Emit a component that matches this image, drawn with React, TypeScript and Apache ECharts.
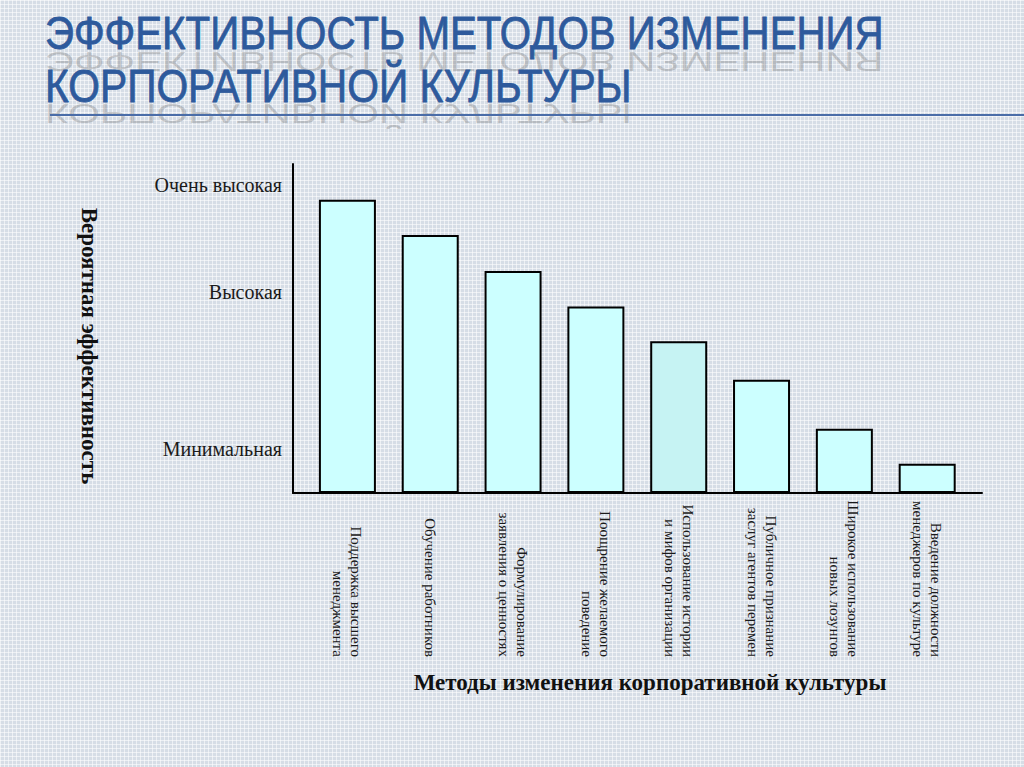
import React, { useEffect, useRef } from "react";
import * as echarts from "echarts";

const categories = [
  "Поддержка высшего\nменеджмента",
  "Обучение работников",
  "Формулирование\nзаявления о ценностях",
  "Поощрение желаемого\nповедение",
  "Использование истории\nи мифов организации",
  "Публичное признание\nзаслуг агентов перемен",
  "Широкое использование\nновых лозунгов",
  "Введение должности\nменеджеров по культуре",
];
const values = [89.1, 78.4, 67.5, 56.7, 46.1, 34.4, 19.5, 8.9];
const yTickValues = [13.4, 61.2, 93.7];
const yTickLabels = ["Минимальная", "Высокая", "Очень высокая"];
const titleLines = ["ЭФФЕКТИВНОСТЬ МЕТОДОВ ИЗМЕНЕНИЯ", "КОРПОРАТИВНОЙ КУЛЬТУРЫ"];
const xAxisName = "Методы изменения корпоративной культуры";
const yAxisName = "Вероятная эффективность";

const SERIF = "'Liberation Serif', 'Times New Roman', serif";
const NARROW = "'Liberation Sans Narrow', 'Arial Narrow', 'Liberation Sans', sans-serif";
const TITLE_COLOR = "#2E5A9C";
const BG = "214,221,230";

export default function App() {
  const ref = useRef<HTMLDivElement | null>(null);

  useEffect(() => {
    if (!ref.current) return;
    const chart = echarts.init(ref.current, null, { renderer: "svg" });

    const capCenters = [33, 86];
    const baselines = [50, 103];
    const scaleXs = [0.876, 0.886];
    const reflections: any[] = [];
    const mains: any[] = [];
    titleLines.forEach((line, i) => {
      reflections.push({
        type: "text",
        x: 45,
        y: baselines[i] + 1,
        scaleX: scaleXs[i],
        scaleY: -0.6,
        silent: true,
        style: {
          x: 0,
          y: -(baselines[i] - capCenters[i]),
          text: line,
          font: `46px ${NARROW}`,
          verticalAlign: "middle",
          textAlign: "left",
          fill: "rgba(110,110,110,0.32)",
        },
      });
      mains.push({
        type: "text",
        x: 45,
        y: capCenters[i],
        scaleX: scaleXs[i],
        silent: true,
        style: {
          x: 0,
          y: 0,
          text: line,
          font: `46px ${NARROW}`,
          verticalAlign: "middle",
          textAlign: "left",
          fill: TITLE_COLOR,
          stroke: TITLE_COLOR,
          lineWidth: 0.8,
        },
      });
    });

    const option: any = {
      animation: false,
      backgroundColor: "transparent",
      grid: [
        { left: 293, right: 42, top: 164, bottom: 274, outerBoundsMode: "none" },
        { left: 306, right: 55.4, top: 164, bottom: 274, outerBoundsMode: "none" },
      ],
      xAxis: [
        {
          gridIndex: 0,
          type: "value",
          min: 0,
          max: 1,
          axisLine: { show: true, lineStyle: { color: "#000", width: 2 } },
          axisTick: { show: false },
          axisLabel: { show: false },
          splitLine: { show: false },
          name: xAxisName,
          nameLocation: "middle",
          nameGap: 178,
          nameTextStyle: {
            fontFamily: SERIF,
            fontSize: 23,
            fontWeight: "bold",
            color: "#111",
            padding: [0, 0, 0, 25],
          },
        },
        {
          gridIndex: 1,
          type: "category",
          data: categories,
          axisLine: { show: false },
          axisTick: { show: false },
          splitLine: { show: false },
          axisLabel: {
            interval: 0,
            rotate: -90,
            margin: 164,
            align: "right",
            verticalAlign: "middle",
            fontFamily: SERIF,
            fontSize: 15,
            lineHeight: 18,
            color: "#1a1a1a",
          },
        },
      ],
      yAxis: [
        {
          gridIndex: 0,
          type: "value",
          min: 0,
          max: 100,
          axisLine: { show: true, lineStyle: { color: "#000", width: 2 } },
          axisTick: { show: false },
          splitLine: { show: false },
          axisLabel: {
            customValues: yTickValues,
            margin: 11,
            fontFamily: SERIF,
            fontSize: 20,
            color: "#1a1a1a",
            formatter: (v: number) => {
              const idx = yTickValues.findIndex((t) => Math.abs(t - v) < 0.01);
              return idx >= 0 ? yTickLabels[idx] : "";
            },
          },
          name: yAxisName,
          nameLocation: "middle",
          nameRotate: -90,
          nameGap: 192,
          nameTextStyle: {
            fontFamily: SERIF,
            fontSize: 23,
            fontWeight: "bold",
            color: "#111",
            padding: [0, 0, 0, 35],
          },
        },
        {
          gridIndex: 1,
          type: "value",
          min: 0,
          max: 100,
          show: false,
        },
      ],
      series: [
        {
          type: "bar",
          xAxisIndex: 1,
          yAxisIndex: 1,
          barWidth: 57,
          data: values.map((v, i) =>
            i === 4 ? { value: v, itemStyle: { color: "#C6F3F3" } } : v
          ),
          itemStyle: { color: "#CCFFFF", borderColor: "#000", borderWidth: 2 },
        },
      ],
      graphic: [
        ...reflections,
        ...mains,
        {
          type: "line",
          silent: true,
          shape: { x1: 50, y1: 115, x2: 1024, y2: 115 },
          style: { stroke: "#4A6DA8", lineWidth: 2 },
        },
      ],
    };

    chart.setOption(option);
    return () => chart.dispose();
  }, []);

  return (
    <div
      style={{
        position: "fixed",
        left: 0,
        top: 0,
        width: 1024,
        height: 767,
        backgroundColor: `rgb(${BG})`,
        backgroundImage:
          "linear-gradient(90deg, rgba(255,255,255,0.55) 1px, transparent 1px), linear-gradient(rgba(255,255,255,0.55) 1px, transparent 1px)",
        backgroundSize: "4px 4px",
      }}
    >
      <div ref={ref} style={{ width: 1024, height: 767 }} />
    </div>
  );
}
